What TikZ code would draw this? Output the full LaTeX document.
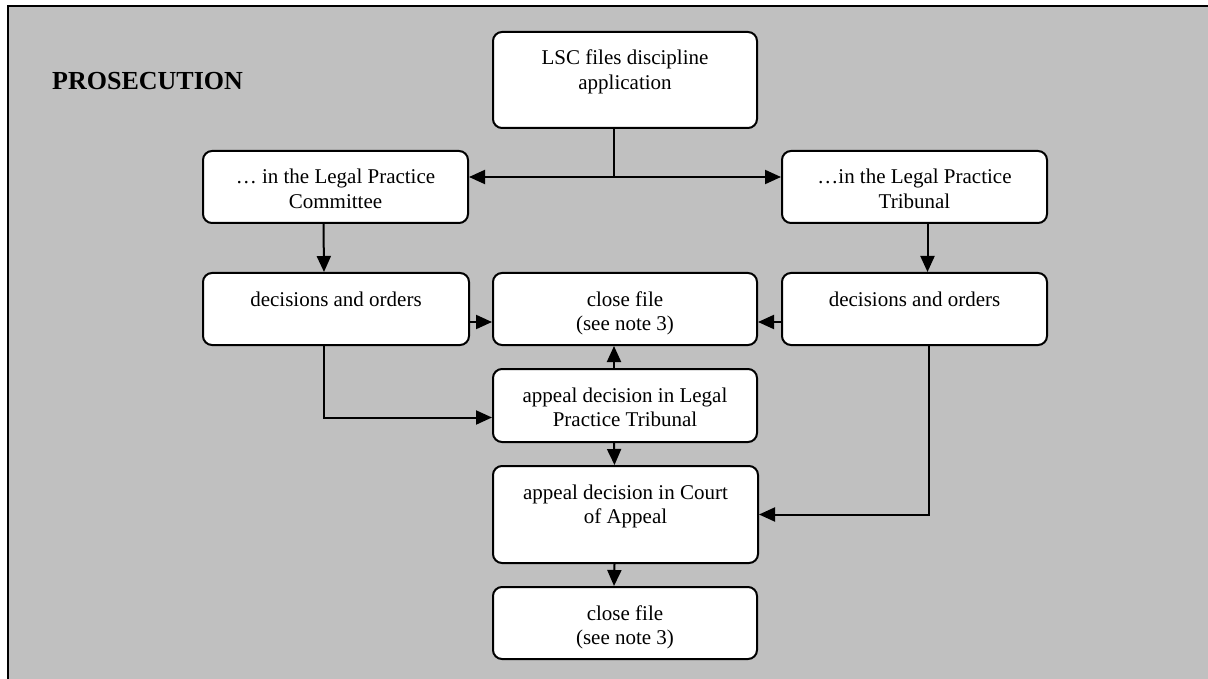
\documentclass[tikz,border=0pt]{standalone}
\usepackage{fontspec}
\setmainfont{Liberation Serif}
\usetikzlibrary{arrows.meta,calc}
\definecolor{bg}{RGB}{192,192,192}
\newcommand{\bxtext}[3]{\parbox[t][#2pt][t]{#1pt}{\centering\rule{0pt}{33pt}#3}}
\begin{document}
\begin{tikzpicture}[x=1pt,y=-1pt,
  box/.style={draw, line width=2pt, fill=white, rounded corners=9pt, inner sep=0pt, anchor=north west, font=\fontsize{21}{24.5}\selectfont},
  arr/.style={line width=2pt, -{Triangle[length=16pt,width=14pt]}},
  title/.style={font=\fontsize{26}{30}\selectfont\bfseries, anchor=base west, inner sep=0pt}]
\useasboundingbox (0,0) rectangle (1208,679);
\fill[bg] (8,6) rectangle (1208,679);
\draw[line width=2.5pt] (8,679) -- (8,6) -- (1208,6);
\node[title] (ttl) at (52,90) {PROSECUTION};
\node[box] (lsc) at (492,31) {\bxtext{264}{96}{LSC files discipline\\application}};
\node[box] (lpc) at (202,150) {\bxtext{265}{72}{\dots\ in the Legal Practice\\Committee}};
\node[box] (lpt) at (781,150) {\bxtext{265}{72}{\dots in the Legal Practice\\Tribunal}};
\node[box] (dl) at (202,272) {\bxtext{266}{72}{decisions and orders}};
\node[box] (cf1) at (492,272) {\bxtext{264}{72}{close file\\(see note 3)}};
\node[box] (dr) at (781,272) {\bxtext{265}{72}{decisions and orders}};
\node[box] (ap1) at (492,368) {\bxtext{264}{73}{appeal decision in Legal\\Practice Tribunal}};
\node[box] (ca) at (492,465) {\bxtext{265}{97}{appeal decision in Court\\of Appeal}};
\node[box] (cf2) at (492,586) {\bxtext{264}{72}{close file\\(see note 3)}};
\draw[arr] ([xshift=-11pt]lsc.south) |- ([yshift=10pt]lpc.east);
\draw[arr] ([xshift=-11pt]lsc.south) |- ([yshift=10pt]lpt.west);
\draw[arr] ([xshift=-12pt]lpc.south) -- ([xshift=-12pt]dl.north);
\draw[arr] ([xshift=13pt]lpt.south) -- ([xshift=13pt]dr.north);
\draw[arr] ([yshift=-13pt]dl.east) -- ([yshift=-13pt]cf1.west);
\draw[arr] ([yshift=-13pt]dr.west) -- ([yshift=-13pt]cf1.east);
\draw[arr] ([xshift=-11pt]ap1.north) -- ([xshift=-11pt]cf1.south);
\draw[arr] ([xshift=-12pt]dl.south) |- ([yshift=-12pt]ap1.west);
\draw[arr] ([xshift=-11pt]ap1.south) -- ([xshift=-11pt]ca.north);
\draw[arr] ([xshift=14pt]dr.south) |- (ca.east);
\draw[arr] ([xshift=-11pt]ca.south) -- ([xshift=-11pt]cf2.north);
\end{tikzpicture}
\end{document}
